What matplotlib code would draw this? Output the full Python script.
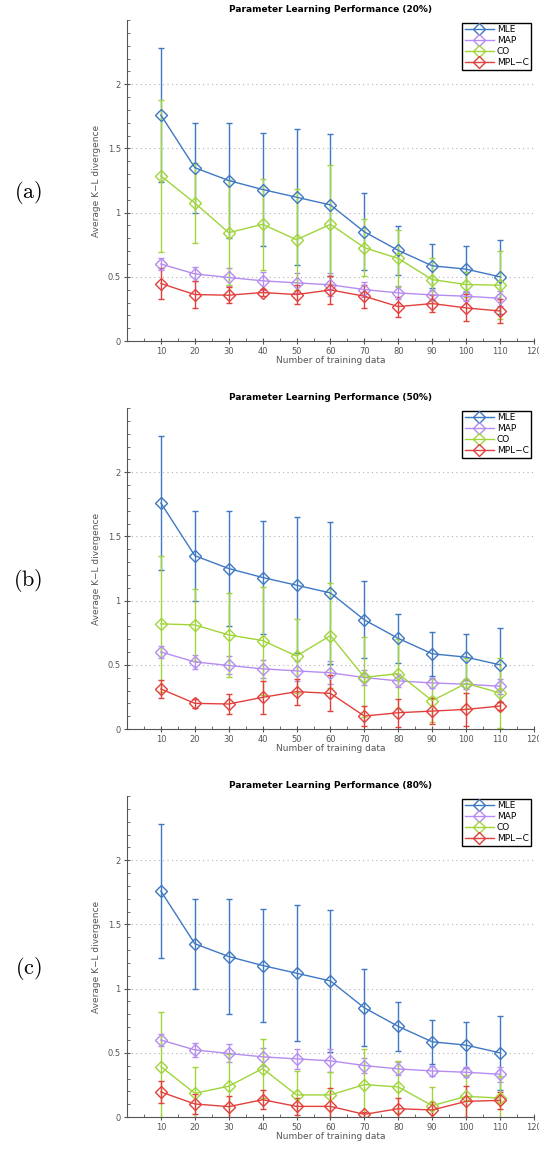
import numpy as np
import matplotlib.pyplot as plt
from matplotlib.ticker import MultipleLocator
from matplotlib.lines import Line2D

plt.rcParams['mathtext.fontset'] = 'cm'

n_train = [10, 20, 30, 40, 50, 60, 70, 80, 90, 100, 110]
methods = ['MLE', 'MAP', 'CO', 'MPL\u2212C']
percents = ['20%', '50%', '80%']
panel_tags = ['(a)', '(b)', '(c)']

# MLE and MAP are the same in all three panels
mle = [1.76, 1.35, 1.25, 1.18, 1.12, 1.06, 0.85, 0.706, 0.586, 0.56, 0.50]
mle_err = [0.52, 0.35, 0.45, 0.44, 0.53, 0.55, 0.30, 0.19, 0.17, 0.18, 0.29]
map_ = [0.60, 0.523, 0.495, 0.469, 0.453, 0.438, 0.401, 0.375, 0.359, 0.349, 0.333]
map_err = [0.045, 0.055, 0.07, 0.07, 0.08, 0.09, 0.06, 0.05, 0.04, 0.04, 0.06]

co_20 = [1.286, 1.075, 0.844, 0.909, 0.789, 0.909, 0.727, 0.643, 0.479, 0.44, 0.435]
co_20_err = [0.59, 0.31, 0.41, 0.355, 0.395, 0.465, 0.22, 0.22, 0.17, 0.10, 0.265]
mplc_20 = [0.448, 0.362, 0.357, 0.378, 0.362, 0.398, 0.349, 0.268, 0.292, 0.258, 0.234]
mplc_20_err = [0.12, 0.105, 0.06, 0.025, 0.075, 0.11, 0.088, 0.078, 0.065, 0.105, 0.09]

co_50 = [0.819, 0.811, 0.733, 0.689, 0.569, 0.728, 0.403, 0.431, 0.221, 0.356, 0.281]
co_50_err = [0.53, 0.28, 0.33, 0.42, 0.285, 0.41, 0.31, 0.27, 0.17, 0.20, 0.27]
mplc_50 = [0.312, 0.20, 0.195, 0.247, 0.291, 0.278, 0.101, 0.127, 0.14, 0.153, 0.179]
mplc_50_err = [0.07, 0.035, 0.08, 0.13, 0.10, 0.14, 0.08, 0.11, 0.10, 0.13, 0.03]

co_80 = [0.393, 0.185, 0.24, 0.378, 0.172, 0.172, 0.253, 0.234, 0.089, 0.161, 0.148]
co_80_err = [0.425, 0.205, 0.25, 0.23, 0.19, 0.18, 0.28, 0.20, 0.145, 0.17, 0.17]
mplc_80 = [0.195, 0.102, 0.081, 0.135, 0.083, 0.083, 0.021, 0.065, 0.055, 0.122, 0.13]
mplc_80_err = [0.088, 0.08, 0.085, 0.073, 0.065, 0.14, 0.02, 0.08, 0.06, 0.12, 0.065]

colors = ['#3f78c2', '#b58cf0', '#9fd53a', '#e2403c']

panels = [
    (co_20, co_20_err, mplc_20, mplc_20_err),
    (co_50, co_50_err, mplc_50, mplc_50_err),
    (co_80, co_80_err, mplc_80, mplc_80_err),
]

fig = plt.figure(figsize=(5.39, 11.51), dpi=100)
ax_boxes = [[0.2356, 0.7037, 0.755, 0.2789],
            [0.2356, 0.3666, 0.755, 0.2789],
            [0.2356, 0.0295, 0.755, 0.2789]]

for k, (co, co_err, mplc, mplc_err) in enumerate(panels):
    ax = fig.add_axes(ax_boxes[k])
    series = [(mle, mle_err), (map_, map_err), (co, co_err), (mplc, mplc_err)]
    handles = []
    for (vals, errs), c, name in zip(series, colors, methods):
        ax.errorbar(n_train, vals, yerr=errs, color=c, ecolor=c, lw=1.0,
                    elinewidth=1.0, capsize=2.5, capthick=1.0,
                    marker='D', markersize=6, markerfacecolor='none',
                    markeredgecolor=c, markeredgewidth=1.0)
        handles.append(Line2D([], [], color=c, lw=1.0, marker='D', markersize=6,
                              markerfacecolor='none', markeredgecolor=c, label=name))
    ax.set_xlim(0, 120)
    ax.set_ylim(0, 2.5)
    ax.xaxis.set_minor_locator(MultipleLocator(5))
    ax.yaxis.set_minor_locator(MultipleLocator(0.1))
    ax.set_xticks(n_train + [120])
    ax.set_yticks([0, 0.5, 1, 1.5, 2])
    ax.set_yticklabels(['0', '0.5', '1', '1.5', '2'])
    ax.grid(axis='y', linestyle=(0, (1, 3)), color='#b0b0b0', lw=0.8)
    for s in ['top', 'right']:
        ax.spines[s].set_visible(False)
    for s in ['left', 'bottom']:
        ax.spines[s].set_color('#555555')
    ax.tick_params(which='major', direction='inout', length=5, width=0.8,
                   color='#555555', labelsize=6, labelcolor='#555555', pad=2)
    ax.tick_params(which='minor', direction='in', length=2.5, width=0.6,
                   color='#555555')
    ax.set_xlabel('Number of training data', fontsize=6.5, color='#555555', labelpad=0)
    ax.set_ylabel('Average K\u2212L divergence', fontsize=6.5, color='#555555', labelpad=5)
    ax.set_title('Parameter Learning Performance (%s)' % percents[k],
                 fontsize=6.5, fontweight='bold', pad=6)
    leg = ax.legend(handles=handles, loc='upper right', fontsize=6.5, frameon=True,
                    fancybox=False, framealpha=1, borderpad=0.3, labelspacing=0.2,
                    handlelength=3.2, handletextpad=0.3, borderaxespad=0.3)
    leg.get_frame().set_edgecolor('black')
    leg.get_frame().set_linewidth(1.0)
    fig.text(0.052, ax_boxes[k][1] + 0.464 * ax_boxes[k][3], r'$\mathrm{%s}$' % panel_tags[k],
             fontsize=16, ha='center', va='center')

fig.savefig('out.png', dpi=100)
